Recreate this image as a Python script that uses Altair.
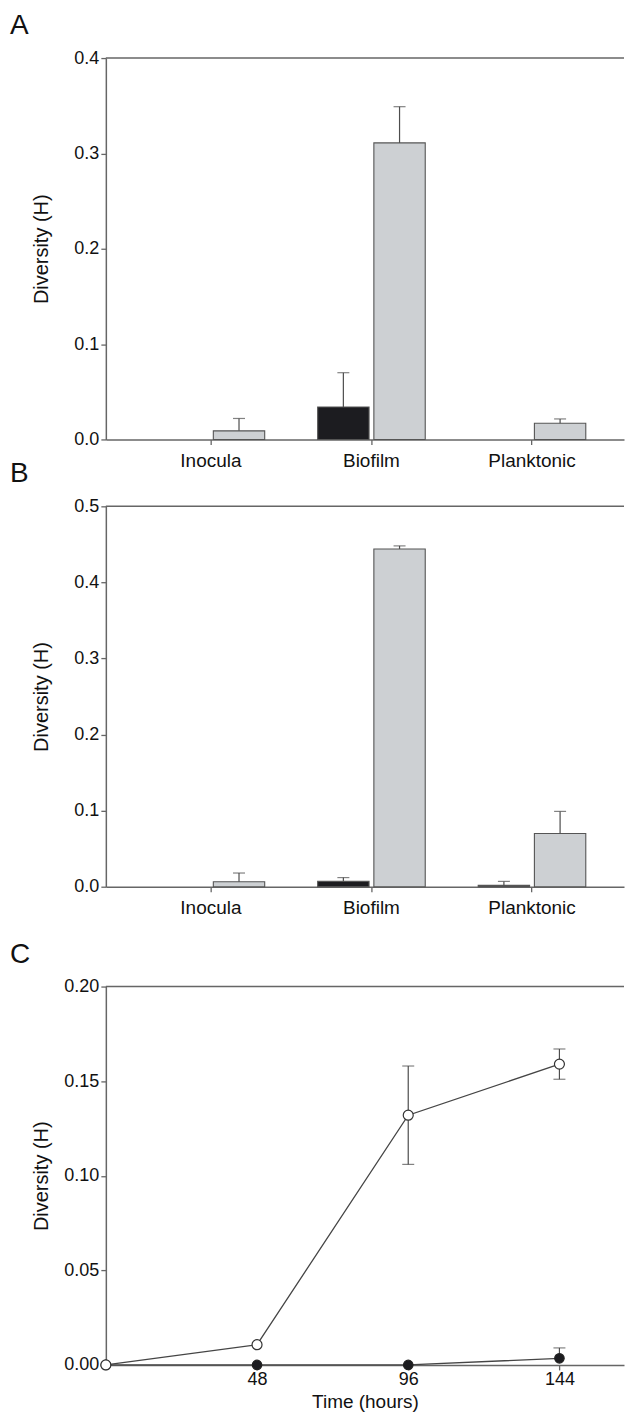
import altair as alt
import pandas as pd

FONT = "Liberation Sans"
AXIS_COLOR = "#666666"
BAR_STROKE = "#555555"
ERR_COLOR = "#4d4d4d"
BLACK = "#1c1c20"
GRAY = "#cdd0d3"

categories = ["Inocula", "Biofilm", "Planktonic"]
series_names = ["Black", "Gray"]

# Panel A
a_category = ["Biofilm", "Inocula", "Biofilm", "Planktonic"]
a_series = ["Black", "Gray", "Gray", "Gray"]
a_mean = [0.034, 0.009, 0.311, 0.017]
a_upper = [0.070, 0.022, 0.349, 0.0215]
a_ticks = [0.0, 0.1, 0.2, 0.3, 0.4]

# Panel B
b_category = ["Biofilm", "Planktonic", "Inocula", "Biofilm", "Planktonic"]
b_series = ["Black", "Black", "Gray", "Gray", "Gray"]
b_mean = [0.007, 0.0017, 0.0066, 0.444, 0.070]
b_upper = [0.012, 0.007, 0.018, 0.448, 0.099]
b_ticks = [0.0, 0.1, 0.2, 0.3, 0.4, 0.5]

# Panel C
hours = [0, 48, 96, 144]
open_mean = [0.0, 0.0107, 0.132, 0.159]
filled_mean = [0.0, 0.0, 0.0, 0.0035]
open_err_hours = [96, 144]
open_err_low = [0.106, 0.151]
open_err_high = [0.158, 0.167]
filled_err_hours = [144]
filled_err_low = [0.0035]
filled_err_high = [0.009]
c_xticks = [48, 96, 144]
c_yticks = [0.0, 0.05, 0.10, 0.15, 0.20]

W = 519


def letter_layer(letter):
    return alt.Chart(pd.DataFrame({"t": [letter]})).mark_text(
        align="left", baseline="top", fontSize=28, font=FONT, color="#111111"
    ).encode(x=alt.value(-96), y=alt.value(-46), text="t:N")


def top_rule():
    return alt.Chart(pd.DataFrame({"v": [0]})).mark_rule(
        color=AXIS_COLOR, strokeWidth=1.5
    ).encode(x=alt.value(0), x2=alt.value(W), y=alt.value(0))


def y_axis(ticks, fmt, h):
    return alt.Axis(
        values=ticks, format=fmt, title="Diversity (H)", grid=False,
        labelFontSize=18, tickSize=5, labelPadding=2,
        titleFontSize=20, titleFontWeight="normal", titleX=-64, titleY=h / 2,
        titleAngle=-90, titleAlign="center", titleBaseline="middle",
        domainWidth=1.5, tickWidth=1.3,
    )


def bar_panel(cat, ser, mean, upper, ymax, ticks, h, letter):
    df = pd.DataFrame({"cat": cat, "series": ser, "mean": mean, "upper": upper})
    xs = alt.X(
        "cat:N", sort=categories,
        scale=alt.Scale(domain=categories, paddingInner=0.33, paddingOuter=0.2788, align=0.573),
        axis=alt.Axis(title=None, labelAngle=0, labelFontSize=19, tickSize=5,
                      labelPadding=7, domainWidth=1.5, tickWidth=1.3),
    )
    xo = alt.XOffset("series:N", scale=alt.Scale(domain=series_names, paddingInner=0.0857, paddingOuter=0))
    ys = alt.Y("mean:Q", scale=alt.Scale(domain=[0, ymax], nice=False, zero=True),
               axis=y_axis(ticks, ".1f", h))
    base = alt.Chart(df)
    bars = base.mark_bar(stroke=BAR_STROKE, strokeWidth=1.1).encode(
        x=xs, xOffset=xo, y=ys,
        fill=alt.Fill("series:N", scale=alt.Scale(domain=series_names, range=[BLACK, GRAY]), legend=None),
    )
    err = base.mark_rule(color=ERR_COLOR, strokeWidth=1.2).encode(
        x=xs, xOffset=xo, y="mean:Q", y2="upper:Q"
    )
    caps = base.mark_tick(orient="horizontal", size=12, thickness=1.2, color=ERR_COLOR).encode(
        x=xs, xOffset=xo, y="upper:Q"
    )
    return alt.layer(bars, err, caps, top_rule(), letter_layer(letter)).properties(width=W, height=h)


panelA = bar_panel(a_category, a_series, a_mean, a_upper, 0.4, a_ticks, 382, "A")
panelB = bar_panel(b_category, b_series, b_mean, b_upper, 0.5, b_ticks, 381, "B")

# Panel C
HC = 379
filled_df = pd.DataFrame({"hours": hours, "value": filled_mean})
open_df = pd.DataFrame({"hours": hours, "value": open_mean})
err_df = pd.DataFrame({
    "hours": open_err_hours + filled_err_hours,
    "low": open_err_low + filled_err_low,
    "high": open_err_high + filled_err_high,
})
cap_df = pd.DataFrame({
    "hours": open_err_hours + open_err_hours + filled_err_hours,
    "v": open_err_low + open_err_high + filled_err_high,
})

cx = alt.X("hours:Q", scale=alt.Scale(domain=[0, 164.5], nice=False, zero=True),
           axis=alt.Axis(values=c_xticks, format="d", title="Time (hours)", grid=False,
                         labelFontSize=18, tickSize=5, labelPadding=1,
                         titleFontSize=19, titleFontWeight="normal", titleY=28,
                         titleBaseline="top", domainWidth=1.5, tickWidth=1.3))
cy = alt.Y("value:Q", scale=alt.Scale(domain=[0, 0.2], nice=False, zero=True),
           axis=y_axis(c_yticks, ".2f", HC))

line_filled = alt.Chart(filled_df).mark_line(color="#454545", strokeWidth=1.3).encode(x=cx, y=cy)
line_open = alt.Chart(open_df).mark_line(color="#454545", strokeWidth=1.3).encode(x="hours:Q", y="value:Q")
c_err = alt.Chart(err_df).mark_rule(color=ERR_COLOR, strokeWidth=1.2).encode(
    x="hours:Q", y="low:Q", y2="high:Q"
)
c_caps = alt.Chart(cap_df).mark_tick(orient="horizontal", size=12, thickness=1.2, color=ERR_COLOR).encode(
    x="hours:Q", y="v:Q"
)
pts_filled = alt.Chart(filled_df).mark_point(
    filled=True, size=90, fill=BLACK, stroke="#222222", strokeWidth=1.2, opacity=1
).encode(x="hours:Q", y="value:Q")
pts_open = alt.Chart(open_df).mark_point(
    filled=True, size=100, fill="#ffffff", stroke="#333333", strokeWidth=1.2, opacity=1
).encode(x="hours:Q", y="value:Q")
panelC = alt.layer(
    line_filled, line_open, c_err, c_caps, pts_filled, pts_open, top_rule(), letter_layer("C")
).properties(width=W, height=HC)


def spacer(h):
    return alt.Chart(pd.DataFrame({"v": [0]})).mark_point(opacity=0).encode(
        x=alt.value(0), y=alt.value(0)
    ).properties(width=W, height=h)


chart = alt.vconcat(
    panelA, spacer(47), panelB, spacer(80), panelC, spacing=10, bounds="flush"
).properties(
    padding={"left": 2, "top": 3, "right": 0, "bottom": 0}
).resolve_scale(fill="independent").configure_view(stroke=None).configure_axis(
    labelFont=FONT, titleFont=FONT, domainColor=AXIS_COLOR, tickColor=AXIS_COLOR,
    labelColor="#111111", titleColor="#111111",
)

chart.save("out.html", embed_options={"renderer": "svg", "actions": False})
